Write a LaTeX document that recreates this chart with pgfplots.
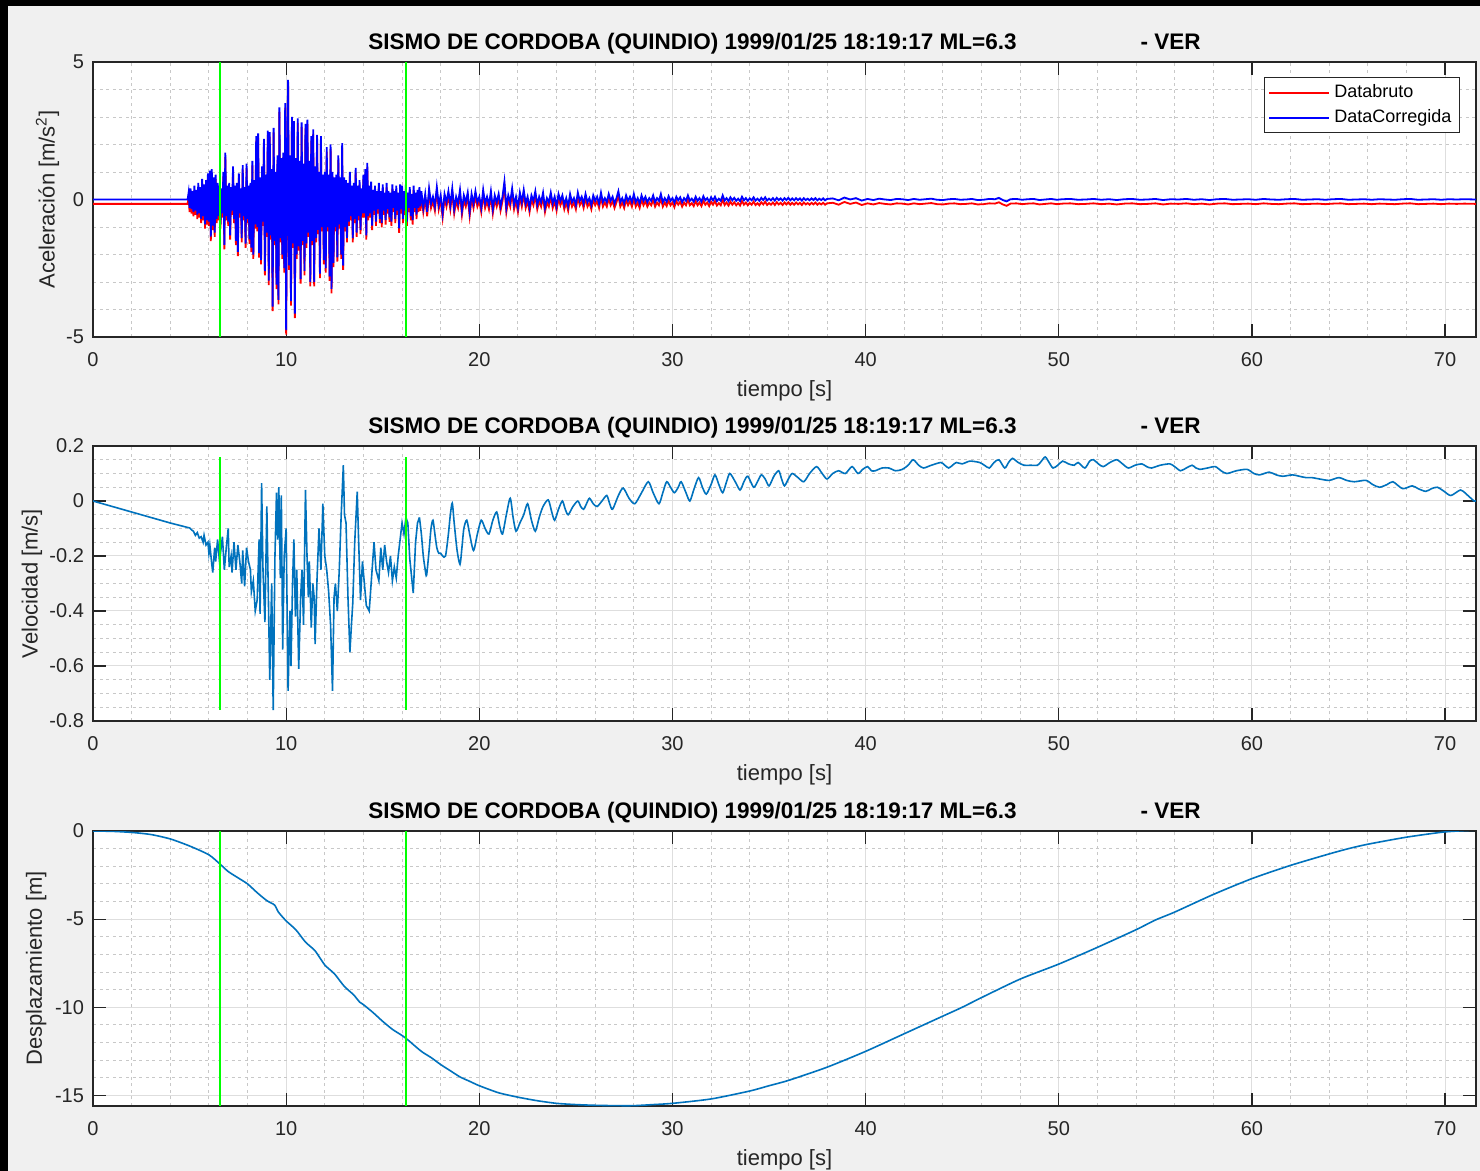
\documentclass[border=0pt]{standalone}
\usepackage{fontspec}
\setmainfont{Liberation Sans}
\usepackage{pgfplots}
\usepackage{pgfplotstable}
\pgfplotsset{compat=1.18}

\definecolor{figbg}{RGB}{240,240,240}
\definecolor{axcol}{RGB}{38,38,38}
\definecolor{gridmaj}{RGB}{222,222,222}
\definecolor{gridmin}{RGB}{200,200,200}
\definecolor{matblue}{rgb}{0,0.447,0.741}
\definecolor{mgreen}{RGB}{0,255,0}

% corrected vertical acceleration [m/s^2]
\pgfplotstableread[row sep=\\]{
t a \\
0 0 \\ 4.90 0.00 \\ 4.95 0.25 \\ 5.00 -0.30 \\ 5.05 0.40 \\ 5.10 -0.35 \\ 5.15 0.30 \\ 5.20 -0.45 \\ 5.25 0.50 \\ 5.30 -0.40 \\ 5.35 0.35 \\
5.40 -0.55 \\ 5.45 0.60 \\ 5.50 -0.50 \\ 5.55 0.45 \\ 5.60 -0.70 \\ 5.65 0.75 \\ 5.70 -0.60 \\ 5.75 0.55 \\ 5.80 -0.90 \\ 5.85 0.70 \\
5.90 -0.75 \\ 5.95 0.95 \\ 6.00 -0.80 \\ 6.05 1.05 \\ 6.10 -1.35 \\ 6.15 1.10 \\ 6.20 -0.95 \\ 6.25 0.80 \\ 6.30 -1.20 \\ 6.35 0.90 \\
6.40 -0.70 \\ 6.45 0.60 \\ 6.50 -0.60 \\ 6.55 0.50 \\ 6.60 -0.90 \\ 6.65 0.40 \\ 6.70 -0.50 \\ 6.75 1.00 \\ 6.80 -1.65 \\ 6.85 1.70 \\
6.90 -0.60 \\ 6.95 0.50 \\ 7.00 -0.80 \\ 7.05 0.60 \\ 7.10 -1.30 \\ 7.15 0.45 \\ 7.20 -0.40 \\ 7.25 1.20 \\ 7.30 -0.70 \\ 7.35 0.50 \\
7.40 -1.50 \\ 7.45 0.60 \\ 7.50 -1.90 \\ 7.55 0.95 \\ 7.60 -0.50 \\ 7.65 0.40 \\ 7.70 -1.40 \\ 7.75 1.25 \\ 7.80 -0.60 \\ 7.85 0.45 \\
7.90 -1.60 \\ 7.95 1.30 \\ 8.00 -0.70 \\ 8.05 0.50 \\ 8.10 -1.45 \\ 8.15 0.60 \\ 8.20 -1.75 \\ 8.25 1.40 \\ 8.30 -2.00 \\ 8.35 0.70 \\
8.40 -0.90 \\ 8.45 2.30 \\ 8.50 -1.00 \\ 8.55 2.40 \\ 8.60 -1.95 \\ 8.65 0.80 \\ 8.70 -2.20 \\ 8.75 1.20 \\ 8.80 -0.80 \\ 8.85 2.20 \\
8.90 -2.60 \\ 8.95 0.90 \\ 9.00 -1.20 \\ 9.05 2.50 \\ 9.10 -2.95 \\ 9.15 2.45 \\ 9.20 -1.30 \\ 9.25 1.10 \\ 9.30 -3.90 \\ 9.35 2.60 \\
9.40 -1.50 \\ 9.45 1.00 \\ 9.50 -3.10 \\ 9.55 1.60 \\ 9.60 -3.65 \\ 9.65 3.35 \\ 9.70 -1.40 \\ 9.75 1.50 \\ 9.80 -2.00 \\ 9.85 1.70 \\
9.90 -2.50 \\ 9.95 3.50 \\ 10.00 -4.75 \\ 10.05 1.40 \\ 10.10 4.35 \\ 10.15 -2.40 \\ 10.20 1.60 \\ 10.25 -3.70 \\ 10.30 3.00 \\ 10.35 -1.60 \\
10.40 2.85 \\ 10.45 -4.15 \\ 10.50 1.50 \\ 10.55 -2.00 \\ 10.60 2.95 \\ 10.65 -1.70 \\ 10.70 1.40 \\ 10.75 -2.90 \\ 10.80 2.80 \\ 10.85 -1.50 \\
10.90 1.30 \\ 10.95 -2.60 \\ 11.00 2.75 \\ 11.05 -1.60 \\ 11.10 2.90 \\ 11.15 -1.20 \\ 11.20 1.40 \\ 11.25 -3.00 \\ 11.30 2.30 \\ 11.35 -1.50 \\
11.40 2.55 \\ 11.45 -3.00 \\ 11.50 1.20 \\ 11.55 -1.40 \\ 11.60 2.35 \\ 11.65 -1.10 \\ 11.70 1.00 \\ 11.75 -2.70 \\ 11.80 2.30 \\ 11.85 -1.00 \\
11.90 0.90 \\ 11.95 -2.20 \\ 12.00 1.00 \\ 12.05 -2.50 \\ 12.10 1.90 \\ 12.15 -1.00 \\ 12.20 0.90 \\ 12.25 -2.80 \\ 12.30 2.00 \\ 12.35 -3.25 \\
12.40 1.00 \\ 12.45 -2.30 \\ 12.50 0.80 \\ 12.55 -1.00 \\ 12.60 0.90 \\ 12.65 -2.10 \\ 12.70 1.60 \\ 12.75 -0.90 \\ 12.80 0.80 \\ 12.85 -2.00 \\
12.90 2.05 \\ 12.95 -2.40 \\ 13.00 0.80 \\ 13.05 -1.00 \\ 13.10 0.70 \\ 13.15 -1.40 \\ 13.20 0.60 \\ 13.25 -0.80 \\ 13.30 1.00 \\ 13.35 -0.60 \\
13.40 0.50 \\ 13.45 -1.40 \\ 13.50 0.60 \\ 13.55 -0.70 \\ 13.60 1.15 \\ 13.65 -1.20 \\ 13.70 0.50 \\ 13.75 -0.60 \\ 13.80 0.70 \\ 13.85 -1.10 \\
13.90 0.40 \\ 13.95 -0.50 \\ 14.00 0.90 \\ 14.05 -0.50 \\ 14.10 1.10 \\ 14.15 -1.30 \\ 14.20 1.33 \\ 14.25 -0.60 \\ 14.30 0.50 \\ 14.35 -0.50 \\
14.40 0.65 \\ 14.45 -0.95 \\ 14.50 0.35 \\ 14.55 -0.40 \\ 14.60 0.50 \\ 14.65 -0.80 \\ 14.70 0.30 \\ 14.75 -0.35 \\ 14.80 0.60 \\ 14.85 -0.70 \\
14.90 0.30 \\ 14.95 -0.85 \\ 15.00 0.55 \\ 15.05 -0.40 \\ 15.10 0.25 \\ 15.15 -0.75 \\ 15.20 0.60 \\ 15.25 -0.35 \\ 15.30 0.30 \\ 15.35 -0.65 \\
15.40 0.25 \\ 15.45 -0.80 \\ 15.50 0.55 \\ 15.55 -0.30 \\ 15.60 0.30 \\ 15.65 -0.70 \\ 15.70 0.50 \\ 15.75 -0.40 \\ 15.80 0.25 \\ 15.85 -1.05 \\
15.90 0.55 \\ 15.95 -0.35 \\ 16.00 0.50 \\ 16.05 -0.70 \\ 16.10 0.30 \\ 16.15 -0.40 \\ 16.20 0.55 \\ 16.25 -0.80 \\ 16.30 0.25 \\ 16.35 -0.30 \\
16.40 0.45 \\ 16.45 -0.60 \\ 16.50 0.20 \\ 16.55 -0.75 \\ 16.60 0.50 \\ 16.65 -0.30 \\ 16.70 0.25 \\ 16.75 -0.55 \\ 16.80 0.35 \\ 16.85 -0.30 \\
16.90 0.45 \\ 16.95 -0.25 \\ 17.00 0.30 \\
17.1 -0.30 \\ 17.2 0.20 \\ 17.3 -0.45 \\ 17.4 0.40 \\ 17.5 -0.15 \\ 17.6 0.10 \\ 17.7 -0.25 \\ 17.8 0.45 \\ 17.9 -0.20 \\ 18.0 0.15 \\
18.1 -0.50 \\ 18.2 0.20 \\ 18.3 -0.10 \\ 18.4 0.30 \\ 18.5 -0.20 \\ 18.6 0.40 \\ 18.7 -0.35 \\ 18.8 0.10 \\ 18.9 -0.15 \\ 19.0 0.35 \\
19.1 -0.40 \\ 19.2 0.15 \\ 19.3 -0.10 \\ 19.4 0.25 \\ 19.5 -0.45 \\ 19.6 0.20 \\ 19.7 -0.15 \\ 19.8 0.30 \\ 19.9 -0.10 \\ 20.0 0.10 \\
20.1 -0.30 \\ 20.2 0.35 \\ 20.3 -0.15 \\ 20.4 0.10 \\ 20.5 -0.20 \\ 20.6 0.30 \\ 20.7 -0.35 \\ 20.8 0.15 \\ 20.9 -0.10 \\ 21.0 0.20 \\
21.1 -0.25 \\ 21.2 0.10 \\ 21.3 0.65 \\ 21.4 -0.30 \\ 21.5 0.15 \\ 21.6 -0.10 \\ 21.7 0.40 \\ 21.8 -0.20 \\ 21.9 0.10 \\ 22.0 -0.30 \\
22.1 0.25 \\ 22.2 -0.10 \\ 22.3 0.35 \\ 22.4 -0.15 \\ 22.5 0.10 \\ 22.6 -0.30 \\ 22.7 0.15 \\ 22.8 -0.05 \\ 22.9 0.30 \\ 23.0 -0.20 \\
23.1 0.10 \\ 23.2 -0.10 \\ 23.3 0.25 \\ 23.4 -0.30 \\ 23.5 0.05 \\ 23.6 -0.10 \\ 23.7 0.25 \\ 23.8 -0.15 \\ 23.9 0.10 \\ 24.0 -0.25 \\
24.1 0.20 \\ 24.2 -0.05 \\ 24.3 0.15 \\ 24.4 -0.20 \\ 24.5 0.05 \\ 24.6 -0.25 \\ 24.7 0.20 \\ 24.8 -0.10 \\ 24.9 0.05 \\ 25.0 -0.20 \\
25.1 0.25 \\ 25.2 -0.05 \\ 25.3 0.10 \\ 25.4 -0.15 \\ 25.5 0.20 \\ 25.6 -0.10 \\ 25.7 0.05 \\ 25.8 -0.20 \\ 25.9 0.15 \\ 26.0 -0.05 \\
26.1 0.10 \\ 26.2 -0.15 \\ 26.3 0.25 \\ 26.4 -0.10 \\ 26.5 0.05 \\ 26.6 -0.10 \\ 26.7 0.20 \\ 26.8 -0.05 \\ 26.9 0.10 \\ 27.0 -0.15 \\
27.1 0.05 \\ 27.2 0.30 \\ 27.3 -0.10 \\ 27.4 0.05 \\ 27.5 -0.15 \\ 27.6 0.15 \\ 27.7 -0.05 \\ 27.8 0.10 \\ 27.9 -0.10 \\ 28.0 0.20 \\
28.1 -0.10 \\ 28.2 0.05 \\ 28.3 -0.15 \\ 28.4 0.15 \\ 28.5 -0.05 \\ 28.6 0.10 \\ 28.7 -0.10 \\ 28.8 0.05 \\ 28.9 -0.05 \\ 29.0 0.15 \\
29.1 -0.10 \\ 29.2 0.05 \\ 29.3 -0.05 \\ 29.4 0.20 \\ 29.5 -0.10 \\ 29.6 0.05 \\ 29.7 -0.08 \\ 29.8 0.12 \\ 29.9 -0.05 \\ 30.0 0.05 \\
30.1 -0.12 \\ 30.2 0.10 \\ 30.3 -0.03 \\ 30.4 0.08 \\ 30.5 -0.10 \\ 30.6 0.05 \\ 30.7 -0.05 \\ 30.8 0.15 \\ 30.9 -0.05 \\ 31.0 0.03 \\
31.1 -0.08 \\ 31.2 0.10 \\ 31.3 -0.05 \\ 31.4 0.05 \\ 31.5 -0.08 \\ 31.6 0.12 \\ 31.7 -0.03 \\ 31.8 0.05 \\ 31.9 -0.08 \\ 32.0 0.08 \\
32.1 -0.03 \\ 32.2 0.10 \\ 32.3 -0.06 \\ 32.4 0.03 \\ 32.5 -0.05 \\ 32.6 0.15 \\ 32.7 -0.04 \\ 32.8 0.05 \\ 32.9 -0.06 \\ 33.0 0.08 \\
33.1 -0.03 \\ 33.2 0.06 \\ 33.3 -0.05 \\ 33.4 0.03 \\ 33.5 -0.06 \\ 33.6 0.10 \\ 33.7 -0.03 \\ 33.8 0.05 \\ 33.9 -0.05 \\ 34.0 0.04 \\
34.1 -0.03 \\ 34.2 0.08 \\ 34.3 -0.04 \\ 34.4 0.03 \\ 34.5 -0.05 \\ 34.6 0.06 \\ 34.7 -0.02 \\ 34.8 0.08 \\ 34.9 -0.04 \\ 35.0 0.03 \\
35.1 -0.03 \\ 35.2 0.05 \\ 35.3 -0.04 \\ 35.4 0.06 \\ 35.5 -0.02 \\ 35.6 0.04 \\ 35.7 -0.04 \\ 35.8 0.05 \\ 35.9 -0.02 \\ 36.0 0.06 \\
36.1 -0.03 \\ 36.2 0.04 \\ 36.3 -0.03 \\ 36.4 0.05 \\ 36.5 -0.02 \\ 36.6 0.04 \\ 36.7 -0.04 \\ 36.8 0.05 \\ 36.9 -0.02 \\ 37.0 0.03 \\
37.1 -0.03 \\ 37.2 0.04 \\ 37.3 -0.02 \\ 37.4 0.05 \\ 37.5 -0.03 \\ 37.6 0.03 \\ 37.7 -0.02 \\ 37.8 0.04 \\ 37.9 -0.03 \\ 38.0 0.02 \\
38.3 0.04 \\ 38.6 -0.03 \\ 38.9 0.07 \\ 39.2 0.00 \\ 39.5 0.05 \\ 39.8 -0.04 \\ 40.1 0.02 \\ 40.4 -0.02 \\ 40.7 0.03 \\ 41.0 0.00 \\
41.3 -0.02 \\ 41.6 0.02 \\ 41.9 0.01 \\ 42.2 -0.02 \\ 42.5 0.02 \\ 42.8 -0.01 \\ 43.1 0.01 \\ 43.4 0.03 \\ 43.7 -0.01 \\ 44.0 -0.02 \\
44.3 0.01 \\ 44.6 0.02 \\ 44.9 -0.01 \\ 45.2 0.00 \\ 45.5 0.02 \\ 45.8 -0.02 \\ 46.1 -0.01 \\ 46.4 0.02 \\ 46.7 0.01 \\ 46.9 0.06 \\
47.1 -0.02 \\ 47.3 -0.07 \\ 47.5 0.01 \\ 47.8 0.02 \\ 48.1 -0.01 \\ 48.4 0.01 \\ 48.7 0.02 \\ 49.0 -0.02 \\ 49.3 0.00 \\ 49.6 0.02 \\
49.9 -0.01 \\ 50.2 0.01 \\ 50.6 0.02 \\ 51.0 -0.01 \\ 51.4 0.00 \\ 51.8 0.02 \\ 52.2 -0.01 \\ 52.6 0.01 \\ 53.0 -0.02 \\ 53.4 0.01 \\
53.8 0.02 \\ 54.2 -0.01 \\ 54.6 0.00 \\ 55.0 0.02 \\ 55.4 -0.02 \\ 55.8 0.01 \\ 56.2 0.00 \\ 56.6 0.02 \\ 57.0 -0.01 \\ 57.4 0.01 \\
57.8 -0.02 \\ 58.2 0.01 \\ 58.6 0.02 \\ 59.0 -0.01 \\ 59.4 0.00 \\ 59.8 0.01 \\ 60.2 -0.01 \\ 60.6 0.02 \\ 61.0 0.00 \\ 61.4 -0.01 \\
61.8 0.01 \\ 62.2 0.02 \\ 62.6 -0.01 \\ 63.0 0.00 \\ 63.4 0.01 \\ 63.8 -0.01 \\ 64.2 0.01 \\ 64.6 0.02 \\ 65.0 -0.01 \\ 65.4 0.00 \\
65.8 0.01 \\ 66.2 -0.01 \\ 66.6 0.01 \\ 67.0 0.00 \\ 67.4 -0.01 \\ 67.8 0.01 \\ 68.2 0.02 \\ 68.6 -0.01 \\ 69.0 0.00 \\ 69.4 0.01 \\
69.8 -0.01 \\ 70.2 0.01 \\ 70.6 0.00 \\ 71.0 0.01 \\ 71.6 0.00 \\
}\accdata

% velocity [m/s]
\pgfplotstableread[row sep=\\]{
t v \\
0 0 \\ 1 -0.02 \\ 2 -0.04 \\ 3 -0.06 \\ 4 -0.08 \\ 5.0 -0.098 \\ 5.1 -0.105 \\ 5.2 -0.11 \\ 5.3 -0.125 \\ 5.4 -0.115 \\
5.5 -0.135 \\ 5.6 -0.13 \\ 5.7 -0.15 \\ 5.75 -0.125 \\ 5.85 -0.16 \\ 5.95 -0.15 \\ 6.0 -0.19 \\ 6.05 -0.16 \\ 6.15 -0.23 \\ 6.2 -0.26 \\
6.3 -0.17 \\ 6.35 -0.22 \\ 6.45 -0.14 \\ 6.55 -0.22 \\ 6.6 -0.19 \\ 6.7 -0.13 \\ 6.8 -0.25 \\ 6.9 -0.17 \\ 7.0 -0.10 \\ 7.05 -0.24 \\
7.15 -0.20 \\ 7.2 -0.26 \\ 7.3 -0.15 \\ 7.4 -0.25 \\ 7.5 -0.16 \\ 7.6 -0.22 \\ 7.7 -0.30 \\ 7.75 -0.18 \\ 7.85 -0.31 \\ 7.95 -0.17 \\
8.05 -0.22 \\ 8.15 -0.25 \\ 8.2 -0.33 \\ 8.3 -0.29 \\ 8.4 -0.40 \\ 8.5 -0.36 \\ 8.6 -0.14 \\ 8.65 -0.41 \\ 8.73 0.065 \\ 8.8 -0.25 \\
8.9 -0.44 \\ 9.0 -0.02 \\ 9.08 -0.35 \\ 9.15 -0.65 \\ 9.25 -0.30 \\ 9.33 -0.76 \\ 9.42 -0.20 \\ 9.5 0.03 \\ 9.56 -0.14 \\ 9.62 0.05 \\
9.7 -0.28 \\ 9.75 0.02 \\ 9.82 -0.54 \\ 9.9 -0.20 \\ 10.0 -0.10 \\ 10.1 -0.69 \\ 10.2 -0.40 \\ 10.25 -0.60 \\ 10.33 -0.30 \\ 10.4 -0.14 \\
10.48 -0.42 \\ 10.55 -0.25 \\ 10.65 -0.61 \\ 10.75 -0.35 \\ 10.82 -0.25 \\ 10.9 -0.45 \\ 11.0 0.04 \\ 11.08 -0.20 \\ 11.15 -0.35 \\ 11.2 -0.22 \\
11.3 -0.46 \\ 11.38 -0.30 \\ 11.45 -0.35 \\ 11.5 -0.52 \\ 11.6 -0.28 \\ 11.7 -0.10 \\ 11.8 -0.25 \\ 11.9 -0.01 \\ 12.0 -0.20 \\ 12.1 -0.25 \\
12.2 -0.33 \\ 12.3 -0.45 \\ 12.4 -0.69 \\ 12.48 -0.35 \\ 12.55 -0.30 \\ 12.65 -0.40 \\ 12.75 -0.25 \\ 12.85 -0.05 \\ 12.96 0.13 \\ 13.02 -0.05 \\
13.1 -0.08 \\ 13.2 -0.35 \\ 13.3 -0.55 \\ 13.38 -0.45 \\ 13.45 -0.37 \\ 13.55 -0.15 \\ 13.68 0.034 \\ 13.75 -0.14 \\ 13.85 -0.36 \\ 13.95 -0.22 \\
14.05 -0.30 \\ 14.15 -0.38 \\ 14.3 -0.40 \\ 14.4 -0.30 \\ 14.55 -0.15 \\ 14.65 -0.25 \\ 14.8 -0.29 \\ 14.9 -0.17 \\ 15.0 -0.25 \\ 15.1 -0.16 \\
15.2 -0.22 \\ 15.3 -0.26 \\ 15.4 -0.20 \\ 15.5 -0.29 \\ 15.6 -0.24 \\ 15.7 -0.28 \\ 15.8 -0.20 \\ 15.9 -0.14 \\ 16.0 -0.08 \\ 16.1 -0.12 \\
16.2 -0.06 \\ 16.3 -0.08 \\ 16.4 -0.21 \\ 16.5 -0.28 \\ 16.58 -0.335 \\ 16.7 -0.15 \\ 16.8 -0.08 \\ 16.9 -0.06 \\ 17.0 -0.12 \\ 17.1 -0.20 \\
17.2 -0.25 \\ 17.27 -0.27 \\ 17.4 -0.18 \\ 17.5 -0.10 \\ 17.6 -0.07 \\ 17.7 -0.12 \\ 17.8 -0.17 \\ 17.9 -0.19 \\ 18.0 -0.19 \\ 18.1 -0.20 \\
18.25 -0.20 \\ 18.4 -0.12 \\ 18.5 -0.05 \\ 18.6 -0.008 \\ 18.7 -0.08 \\ 18.85 -0.18 \\ 19.0 -0.23 \\ 19.1 -0.17 \\ 19.2 -0.10 \\ 19.35 -0.07 \\
19.5 -0.12 \\ 19.7 -0.18 \\ 19.9 -0.12 \\ 20.1 -0.07 \\ 20.3 -0.10 \\ 20.5 -0.12 \\ 20.7 -0.07 \\ 20.9 -0.04 \\ 21.05 -0.09 \\ 21.2 -0.12 \\
21.4 -0.05 \\ 21.6 0.01 \\ 21.75 -0.06 \\ 21.9 -0.11 \\ 22.1 -0.08 \\ 22.3 -0.05 \\ 22.5 -0.01 \\ 22.7 -0.07 \\ 22.9 -0.11 \\ 23.1 -0.06 \\
23.3 -0.02 \\ 23.57 0.004 \\ 23.75 -0.04 \\ 23.9 -0.07 \\ 24.1 -0.03 \\ 24.3 0.0 \\ 24.45 -0.03 \\ 24.6 -0.05 \\ 24.85 -0.02 \\ 25.1 0.0 \\
25.25 -0.02 \\ 25.4 -0.03 \\ 25.55 -0.01 \\ 25.7 0.01 \\ 25.9 -0.01 \\ 26.1 -0.02 \\ 26.35 0.00 \\ 26.6 0.02 \\ 26.75 -0.01 \\ 26.9 -0.03 \\
27.2 0.02 \\ 27.45 0.047 \\ 27.75 0.01 \\ 28.05 -0.01 \\ 28.4 0.03 \\ 28.75 0.07 \\ 29.0 0.03 \\ 29.3 -0.01 \\ 29.5 0.03 \\ 29.7 0.07 \\
29.9 0.05 \\ 30.1 0.03 \\ 30.3 0.05 \\ 30.45 0.07 \\ 30.7 0.03 \\ 30.9 0.0 \\ 31.1 0.04 \\ 31.35 0.085 \\ 31.55 0.05 \\ 31.75 0.025 \\
32.0 0.06 \\ 32.2 0.095 \\ 32.4 0.06 \\ 32.6 0.03 \\ 32.8 0.07 \\ 32.97 0.10 \\ 33.25 0.07 \\ 33.5 0.04 \\ 33.7 0.07 \\ 33.9 0.09 \\
34.2 0.05 \\ 34.4 0.07 \\ 34.6 0.095 \\ 34.8 0.08 \\ 35.0 0.055 \\ 35.25 0.09 \\ 35.5 0.11 \\ 35.65 0.08 \\ 35.8 0.055 \\ 36.0 0.08 \\
36.2 0.10 \\ 36.5 0.085 \\ 36.8 0.07 \\ 37.1 0.10 \\ 37.46 0.125 \\ 37.75 0.10 \\ 38.0 0.08 \\ 38.3 0.10 \\ 38.6 0.11 \\ 38.95 0.10 \\
39.3 0.125 \\ 39.6 0.10 \\ 39.85 0.115 \\ 40.1 0.125 \\ 40.3 0.11 \\ 40.5 0.11 \\ 40.85 0.12 \\ 41.2 0.12 \\ 41.55 0.11 \\ 41.9 0.115 \\
42.2 0.13 \\ 42.46 0.15 \\ 42.75 0.13 \\ 43.0 0.12 \\ 43.4 0.13 \\ 43.9 0.14 \\ 44.1 0.13 \\ 44.3 0.12 \\ 44.5 0.13 \\ 44.7 0.14 \\
45.0 0.135 \\ 45.4 0.145 \\ 45.9 0.14 \\ 46.15 0.13 \\ 46.4 0.12 \\ 46.65 0.14 \\ 46.9 0.15 \\ 47.2 0.12 \\ 47.4 0.14 \\ 47.6 0.155 \\
47.9 0.14 \\ 48.2 0.13 \\ 48.55 0.13 \\ 48.9 0.13 \\ 49.1 0.145 \\ 49.3 0.16 \\ 49.5 0.14 \\ 49.7 0.12 \\ 49.95 0.13 \\ 50.2 0.145 \\
50.5 0.135 \\ 50.8 0.13 \\ 51.0 0.14 \\ 51.35 0.12 \\ 51.6 0.145 \\ 51.8 0.15 \\ 52.05 0.135 \\ 52.3 0.125 \\ 52.65 0.14 \\ 53.0 0.15 \\
53.3 0.135 \\ 53.6 0.12 \\ 53.95 0.13 \\ 54.3 0.135 \\ 54.55 0.125 \\ 54.8 0.12 \\ 55.25 0.13 \\ 55.75 0.135 \\ 56.0 0.125 \\ 56.3 0.11 \\
56.6 0.12 \\ 56.9 0.13 \\ 57.1 0.12 \\ 57.3 0.115 \\ 57.7 0.12 \\ 58.1 0.125 \\ 58.4 0.11 \\ 58.7 0.10 \\ 59.2 0.11 \\ 59.75 0.115 \\
60.1 0.10 \\ 60.4 0.095 \\ 60.9 0.105 \\ 61.25 0.095 \\ 61.6 0.09 \\ 62.1 0.095 \\ 62.45 0.09 \\ 62.8 0.085 \\ 63.1 0.085 \\ 63.5 0.08 \\
64.0 0.075 \\ 64.5 0.085 \\ 64.9 0.075 \\ 65.3 0.07 \\ 65.9 0.075 \\ 66.25 0.06 \\ 66.6 0.05 \\ 67.0 0.06 \\ 67.3 0.07 \\ 67.8 0.045 \\
68.3 0.055 \\ 68.6 0.045 \\ 69.0 0.035 \\ 69.3 0.045 \\ 69.6 0.05 \\ 69.95 0.035 \\ 70.3 0.02 \\ 70.8 0.04 \\ 71.1 0.025 \\ 71.5 0.0 \\
71.6 0.0 \\
}\veldata

% displacement
\pgfplotstableread[row sep=\\]{
t d \\
0 0 \\ 1 -0.02 \\ 2 -0.08 \\ 3 -0.2 \\ 4 -0.45 \\ 5 -0.85 \\ 6 -1.35 \\ 6.6 -1.9 \\ 7 -2.3 \\ 7.5 -2.65 \\
8 -3.0 \\ 8.5 -3.5 \\ 9 -3.95 \\ 9.4 -4.2 \\ 9.6 -4.6 \\ 10 -5.1 \\ 10.5 -5.6 \\ 11 -6.3 \\ 11.5 -6.8 \\ 12 -7.6 \\
12.5 -8.1 \\ 13 -8.8 \\ 13.5 -9.3 \\ 13.8 -9.7 \\ 14 -9.85 \\ 14.5 -10.3 \\ 15 -10.8 \\ 15.5 -11.25 \\ 16 -11.6 \\ 16.3 -11.85 \\
17 -12.5 \\ 17.5 -12.85 \\ 18 -13.25 \\ 18.5 -13.6 \\ 19 -13.95 \\ 19.5 -14.2 \\ 20 -14.45 \\ 21 -14.85 \\ 22 -15.1 \\ 23 -15.3 \\
24 -15.45 \\ 25 -15.52 \\ 26 -15.56 \\ 27 -15.58 \\ 28 -15.58 \\ 29 -15.52 \\ 30 -15.45 \\ 32 -15.2 \\ 34 -14.75 \\ 35 -14.45 \\
36 -14.15 \\ 38 -13.4 \\ 40 -12.5 \\ 42 -11.5 \\ 44 -10.5 \\ 45 -10.0 \\ 46 -9.45 \\ 48 -8.4 \\ 50 -7.55 \\ 52 -6.6 \\
54 -5.6 \\ 55 -5.05 \\ 56 -4.6 \\ 58 -3.6 \\ 60 -2.7 \\ 62 -1.95 \\ 64 -1.3 \\ 65 -1.0 \\ 66 -0.75 \\ 68 -0.35 \\
70 -0.05 \\ 71.6 0.05 \\
}\dispdata

\pgfplotsset{
  sismo/.style={
    scale only axis, width=691.5pt, height=137.5pt,
    anchor=north west,
    xmin=0, xmax=71.6,
    xtick={0,10,20,30,40,50,60,70},
    xticklabels={0,10,20,30,40,50,60,70},
    minor x tick num=4,
    grid=both,
    major grid style={gridmaj, line width=0.5pt},
    minor grid style={gridmin, line width=0.45pt, dash pattern=on 1.5pt off 1.8pt},
    axis line style={axcol, line width=0.6pt},
    tick style={axcol, line width=0.6pt},
    major tick length=6.5pt, minor tick length=0pt,
    tick align=inside,
    tick label style={font=\fontsize{10}{12}\selectfont, text=axcol},
    xticklabel style={yshift=-4pt},
    yticklabel style={xshift=-1pt},
    xlabel={tiempo [s]},
    label style={font=\fontsize{11}{13}\selectfont, text=axcol},
    xlabel style={at={(axis description cs:0.5,-0.1945)}, anchor=center},
    title={\textbf{SISMO DE CORDOBA (QUINDIO) 1999/01/25 18:19:17 ML=6.3\hspace{62pt}- VER}},
    % the default title style shifts up by 6pt; this cancels it
    title style={at={(axis description cs:0.5,1.0727)}, anchor=center, yshift=-7pt,
      font=\fontsize{11.25}{13}\selectfont},
    axis background/.style={fill=white},
    /pgf/number format/assume math mode=true,
  },
}

\begin{document}
\begin{tikzpicture}
% figure window
\fill[figbg] (0pt,0pt) rectangle (740pt,-585.5pt);
\fill[black] (0pt,0pt) rectangle (740pt,-3pt);
\fill[black] (0pt,0pt) rectangle (4.1pt,-585.5pt);

% acceleration
\begin{axis}[sismo, at={(46.5pt,-31pt)},
  ymin=-5, ymax=5, ytick={-5,0,5}, yticklabels={-5,0,5},
  minor y tick num=4,
  ylabel={Aceleración [m/s\textsuperscript{2}]},
  ylabel style={at={(axis description cs:-0.0329,0.5)}, anchor=center},
  legend style={at={(0.9884,0.9455)}, anchor=north east, draw=axcol,
    line width=0.5pt, fill=white, font=\fontsize{9}{11}\selectfont,
    inner xsep=2pt, inner ysep=1.5pt, row sep=0.5pt, cells={anchor=west}},
  legend image code/.code={\draw[#1, line width=1pt] (0pt,0pt) -- (30pt,0pt);},
]
\addplot[red, line width=0.9pt] table[x=t, y expr=\thisrow{a}-0.16] {\accdata};
\addlegendentry{Databruto}
\addplot[blue, line width=0.9pt] table[x=t, y=a] {\accdata};
\addlegendentry{DataCorregida}
\addplot[mgreen, line width=0.8pt, forget plot] coordinates {(6.57,-5) (6.57,5)};
\addplot[mgreen, line width=0.8pt, forget plot] coordinates {(16.2,-5) (16.2,5)};
\end{axis}

% velocity
\begin{axis}[sismo, at={(46.5pt,-223pt)},
  ymin=-0.8, ymax=0.2, ytick={-0.8,-0.6,-0.4,-0.2,0,0.2},
  yticklabels={-0.8,-0.6,-0.4,-0.2,0,0.2},
  minor y tick num=3,
  ylabel={Velocidad [m/s]},
  ylabel style={at={(axis description cs:-0.0441,0.5)}, anchor=center},
]
\addplot[matblue, line width=0.8pt, restrict x to domain=0:16.9] table[x=t, y=v] {\veldata};
\addplot[matblue, line width=0.8pt, smooth, tension=0.45, restrict x to domain=16.9:72] table[x=t, y=v] {\veldata};
\addplot[mgreen, line width=0.8pt] coordinates {(6.57,-0.76) (6.57,0.16)};
\addplot[mgreen, line width=0.8pt] coordinates {(16.2,-0.76) (16.2,0.16)};
\end{axis}

% displacement
\begin{axis}[sismo, at={(46.5pt,-415.5pt)},
  ymin=-15.6, ymax=0, ytick={-15,-10,-5,0},
  yticklabels={-15,-10,-5,0},
  minor y tick num=4,
  ylabel={Desplazamiento [m]},
  ylabel style={at={(axis description cs:-0.041,0.5)}, anchor=center},
]
\addplot[matblue, line width=0.8pt, smooth, tension=0.4] table[x=t, y=d] {\dispdata};
\addplot[mgreen, line width=0.8pt] coordinates {(6.57,-15.6) (6.57,0)};
\addplot[mgreen, line width=0.8pt] coordinates {(16.2,-15.6) (16.2,0)};
\end{axis}

\pgfresetboundingbox
\path[use as bounding box] (0pt,0pt) rectangle (740pt,-585.5pt);
\end{tikzpicture}
\end{document}
